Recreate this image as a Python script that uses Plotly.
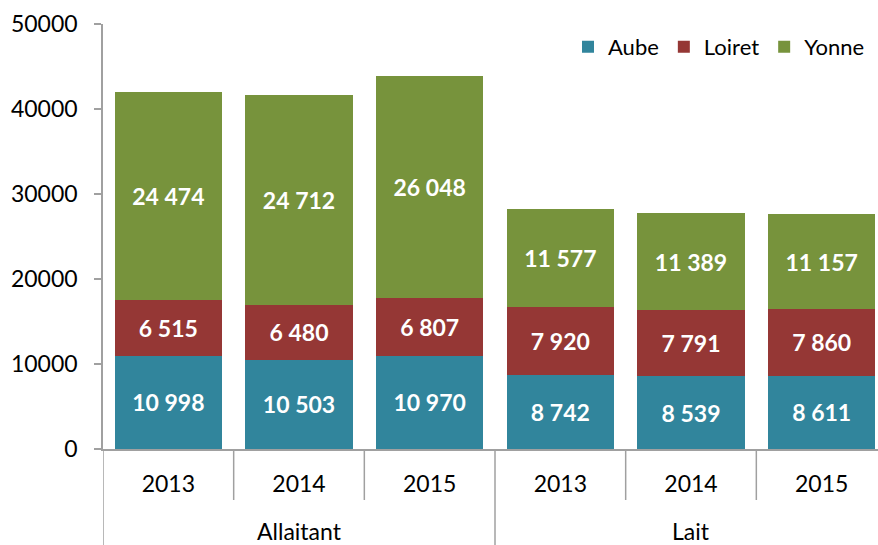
import plotly.graph_objects as go

groups = ["Allaitant"] * 3 + ["Lait"] * 3
years = ["2013", "2014", "2015", "2013", "2014", "2015"]
group_names = ["Allaitant", "Lait"]
aube = [10998, 10503, 10970, 8742, 8539, 8611]
loiret = [6515, 6480, 6807, 7920, 7791, 7860]
yonne = [24474, 24712, 26048, 11577, 11389, 11157]
series = [("Aube", aube, "#31859C"), ("Loiret", loiret, "#953735"), ("Yonne", yonne, "#77933C")]

FONT = "Lato"
AX = "#A0A0A0"
keys = [f"{g} {y}" for g, y in zip(groups, years)]

def fmt(v):
    return f"{v:,}".replace(",", " ")

fig = go.Figure()
for name, vals, col in series:
    fig.add_trace(go.Bar(
        x=keys, y=vals, name=name,
        marker=dict(color=col, line=dict(width=0)),
        text=[fmt(v) for v in vals], textposition="inside",
        insidetextanchor="middle", textangle=0,
        textfont=dict(color="white", size=23, family=FONT),
        texttemplate="<b>%{text}</b>",
        hoverinfo="skip",
    ))

n = len(keys)
shapes = []
bounds = [-0.5]
for i in range(1, n):
    if groups[i] != groups[i - 1]:
        bounds.append(i - 0.5)
for b in bounds:
    shapes.append(dict(type="line", xref="x", yref="paper", x0=b, x1=b, y0=0, y1=-96 / 425,
                       line=dict(color=AX, width=1.5)))
for i in range(1, n):
    if groups[i] == groups[i - 1]:
        shapes.append(dict(type="line", xref="x", yref="paper", x0=i - 0.5, x1=i - 0.5,
                           y0=0, y1=-51 / 425, line=dict(color=AX, width=1.5)))

annotations = []
for g in group_names:
    idx = [i for i, gg in enumerate(groups) if gg == g]
    annotations.append(dict(text=g, xref="x", yref="paper", x=sum(idx) / len(idx),
                            y=-82 / 425, yanchor="middle", showarrow=False,
                            font=dict(size=23, family=FONT, color="black")))

fig.update_layout(
    barmode="stack", bargap=0.18,
    width=878, height=545,
    margin=dict(l=103, r=0, t=24, b=96, autoexpand=False),
    paper_bgcolor="white", plot_bgcolor="white",
    font=dict(family=FONT, size=23, color="black"),
    uniformtext=dict(mode="show", minsize=10),
    legend=dict(orientation="h", x=0.6, xanchor="left", y=0.946, yanchor="middle",
                font=dict(size=22), traceorder="normal", itemwidth=30),
    showlegend=True,
    shapes=shapes, annotations=annotations,
)
fig.update_xaxes(
    type="category", range=[-0.5, n - 0.5 - 9 / 130.7],
    tickvals=keys, ticktext=years,
    showline=True, linecolor=AX, linewidth=1.5, ticks="",
    ticklabelstandoff=14, automargin=False,
    tickfont=dict(size=23), showgrid=False,
)
fig.update_yaxes(
    range=[0, 50000], dtick=10000, showline=True, linecolor=AX, linewidth=1.5,
    ticks="outside", ticklen=7, tickcolor=AX, tickwidth=1.5, showgrid=False,
    tickformat="d", tickfont=dict(size=23), zeroline=False,
    ticklabelstandoff=12, automargin=False,
)
fig.write_html("out.html", config={"displayModeBar": False})

with open("out.html", "r", encoding="utf-8") as f:
    html = f.read()
html = html.replace("<head>", "<head><style>html,body{margin:0;padding:0;overflow:hidden;}</style>", 1)
with open("out.html", "w", encoding="utf-8") as f:
    f.write(html)
